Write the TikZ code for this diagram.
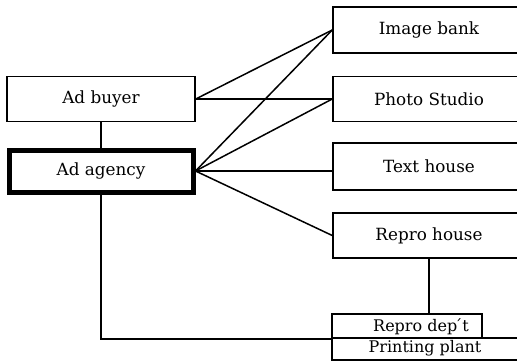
\documentclass[tikz,border=0pt]{standalone}
\usepackage{fontspec}
\setmainfont{DejaVu Serif}
\begin{document}
\begin{tikzpicture}[x=1pt,y=-1pt,
  lbl/.style={font=\fontsize{16.8}{19}\selectfont},
  box/.style={draw, line width=1.5pt, rectangle, inner sep=0pt, lbl},
  thickbox/.style={box, line width=5pt},
  link/.style={draw, line width=1.5pt}]
\useasboundingbox (0,0) rectangle (517,364);
\clip (0,0) rectangle (517,364);
% left boxes
\node[box, minimum width=188pt, minimum height=45pt] (ab) at (101,99) {Ad buyer};
\node[thickbox, minimum width=184pt, minimum height=42pt] (aa) at (101,171) {Ad agency};
% right boxes (cut off by the right edge)
\node[box, minimum width=192pt, minimum height=46pt] (ib) at (429,30) {Image bank};
\node[box, minimum width=192pt, minimum height=45pt] (ps) at (429,99) {Photo Studio};
\node[box, minimum width=192pt, minimum height=47pt] (th) at (429,166.5) {Text house};
\node[box, minimum width=192pt, minimum height=45pt] (rh) at (429,235.5) {Repro house};
\node[box, minimum width=150pt, minimum height=24pt] (rd) at (407,326) {};
\node[font=\fontsize{16}{18}\selectfont, inner sep=0pt] (rdt) at (421,326.5) {Repro dep\'{}t};
\node[box, minimum width=193pt, minimum height=22pt] (pp) at (428.5,349) {};
\node[font=\fontsize{16}{18}\selectfont, inner sep=0pt] (ppt) at (425,348.5) {Printing plant};
% connectors
\draw[link] (ab.south) -- (aa.north);
\draw[link] (ab.east) -- (ib.west);
\draw[link] (ab.east) -- (ps.west);
\draw[link] (aa.east) -- (ib.west);
\draw[link] (aa.east) -- (ps.west);
\draw[link] (aa.east) -- (aa.east -| th.west);
\draw[link] (aa.east) -- (rh.west);
\draw[link] (aa.south) |- (rd.south west);
\draw[link] (rh.south) -- (rh.south |- rd.north);
\end{tikzpicture}
\end{document}
